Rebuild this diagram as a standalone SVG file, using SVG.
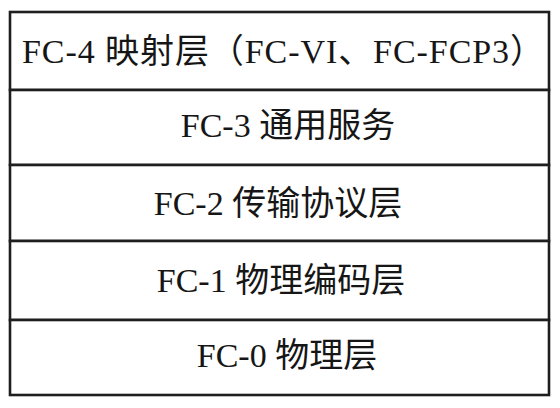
<svg xmlns="http://www.w3.org/2000/svg" width="560" height="408" viewBox="0 0 560 408">
<style>
.cell{fill:#ffffff;stroke:#1e1e1e;stroke-width:2.6}
.lbl{font-family:"Liberation Serif","Noto Sans CJK SC",serif;font-size:34px;fill:#161616;text-anchor:middle}
</style>
<rect x="0" y="0" width="560" height="408" fill="#ffffff"/>
<g id="fc4">
<rect class="cell" x="10" y="12" width="539" height="78"/>
<text class="lbl" x="283" y="63" textLength="522" lengthAdjust="spacing">FC-4 映射层（FC-VI、FC-FCP3）</text>
</g>
<g id="fc3">
<rect class="cell" x="10" y="90" width="539" height="75"/>
<text class="lbl" x="288" y="137">FC-3 通用服务</text>
</g>
<g id="fc2">
<rect class="cell" x="10" y="165" width="539" height="76"/>
<text class="lbl" x="278" y="215">FC-2 传输协议层</text>
</g>
<g id="fc1">
<rect class="cell" x="10" y="241" width="539" height="79"/>
<text class="lbl" x="281" y="292">FC-1 物理编码层</text>
</g>
<g id="fc0">
<rect class="cell" x="10" y="320" width="539" height="75"/>
<text class="lbl" x="287" y="367">FC-0 物理层</text>
</g>
<g id="connectors"></g>
</svg>
